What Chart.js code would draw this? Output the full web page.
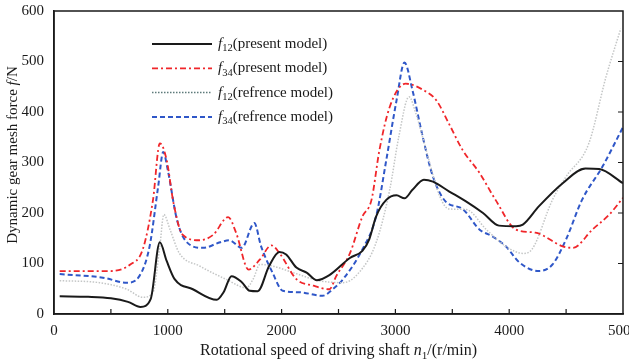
<!DOCTYPE html>
<html>
<head>
<meta charset="utf-8">
<script src="https://cdn.jsdelivr.net/npm/chart.js@4.4.0/dist/chart.umd.min.js"></script>
<style>
  body { margin: 0; background: #fff; }
  canvas { display: block; }
</style>
</head>
<body>
<canvas id="chart" width="629" height="361"></canvas>
<script>
// f12 (present model)
var f12PresentSpeed = [50, 300, 500, 650, 760, 850, 930, 990, 1060, 1220, 1430, 1490, 1560, 1650, 1720, 1790, 1890, 1980, 2040, 2130, 2220, 2310, 2420, 2600, 2710, 2770, 2830, 2920, 3010, 3080, 3150, 3250, 3330, 3470, 3620, 3770, 3910, 4060, 4120, 4260, 4470, 4670, 4790, 5000];
var f12PresentForce = [35, 34, 31, 24, 14, 30, 142, 105, 69, 49, 28, 43, 75, 63, 46, 45, 95, 123, 118, 92, 82, 67, 77, 111, 125, 148, 193, 226, 235, 229, 246, 266, 262, 243, 223, 200, 175, 174, 177, 213, 259, 288, 287, 259];

// f34 (present model)
var f34PresentSpeed = [50, 490, 670, 780, 870, 930, 990, 1050, 1130, 1280, 1400, 1530, 1600, 1710, 1810, 1910, 1980, 2130, 2280, 2420, 2480, 2600, 2710, 2790, 2860, 2950, 3090, 3250, 3360, 3470, 3590, 3740, 3880, 4060, 4230, 4470, 4560, 4730, 4880, 5000];
var f34PresentForce = [85, 85, 98, 128, 226, 338, 305, 220, 157, 146, 157, 192, 161, 88, 108, 136, 121, 69, 56, 49, 75, 120, 193, 226, 325, 410, 456, 443, 423, 377, 325, 279, 226, 167, 161, 134, 131, 167, 197, 230];

// f12 (refrence model)
var f12RefSpeed = [50, 400, 640, 780, 870, 930, 965, 1020, 1100, 1280, 1510, 1690, 1750, 1810, 1920, 2100, 2330, 2540, 2680, 2830, 2950, 3030, 3120, 3180, 3270, 3390, 3470, 3620, 3800, 3970, 4120, 4200, 4380, 4500, 4700, 4850, 4980];
var f12RefForce = [66, 62, 49, 33, 43, 134, 197, 167, 121, 95, 69, 52, 69, 98, 95, 82, 66, 62, 82, 141, 246, 351, 430, 397, 325, 233, 208, 207, 167, 134, 120, 128, 226, 272, 338, 469, 565];

// f34 (refrence model)
var f34RefSpeed = [50, 430, 640, 750, 840, 915, 960, 1000, 1080, 1160, 1310, 1460, 1540, 1650, 1760, 1820, 1920, 2010, 2160, 2360, 2450, 2540, 2710, 2830, 2920, 3010, 3080, 3150, 3240, 3330, 3440, 3590, 3740, 3850, 3970, 4090, 4260, 4380, 4500, 4640, 4820, 5000];
var f34RefForce = [79, 72, 62, 75, 134, 252, 321, 285, 187, 144, 131, 142, 146, 131, 180, 134, 82, 46, 43, 36, 49, 69, 128, 193, 305, 423, 498, 443, 351, 272, 223, 208, 167, 154, 134, 102, 85, 98, 148, 226, 292, 370];

var xTicks = [0, 1000, 2000, 3000, 4000, 5000];
var yTicks = [0, 100, 200, 300, 400, 500, 600];

var serif = '"Liberation Serif", "Times New Roman", serif';

function toPoints(xs, ys) {
    var pts = [];
    for (var i = 0; i < xs.length; i++) {
        pts.push({x: xs[i], y: ys[i]});
    }
    return pts;
}

// text made of pieces, some italic, some subscript
function richWidth(ctx, parts, size) {
    var w = 0;
    for (var i = 0; i < parts.length; i++) {
        var p = parts[i];
        var s = p.sub ? size * 0.7 : size;
        ctx.font = (p.italic ? 'italic ' : '') + s + 'px ' + serif;
        w += ctx.measureText(p.t).width;
    }
    return w;
}
function drawRich(ctx, parts, x, y, size) {
    ctx.textAlign = 'left';
    ctx.textBaseline = 'middle';
    for (var i = 0; i < parts.length; i++) {
        var p = parts[i];
        var s = p.sub ? size * 0.7 : size;
        ctx.font = (p.italic ? 'italic ' : '') + s + 'px ' + serif;
        ctx.fillText(p.t, x, p.sub ? y + size * 0.3 : y);
        x += ctx.measureText(p.t).width;
    }
}

var legendLabels = [
    [{t: 'f', italic: true}, {t: '12', sub: true}, {t: '(present model)'}],
    [{t: 'f', italic: true}, {t: '34', sub: true}, {t: '(present model)'}],
    [{t: 'f', italic: true}, {t: '12', sub: true}, {t: '(refrence model)'}],
    [{t: 'f', italic: true}, {t: '34', sub: true}, {t: '(refrence model)'}]
];

var decorPlugin = {
    id: 'decor',
    afterDraw: function(chart) {
        var ctx = chart.ctx;
        var a = chart.chartArea;
        var xs = chart.scales.x, ys = chart.scales.y;
        ctx.save();
        ctx.fillStyle = '#1a1a1a';
        ctx.strokeStyle = '#1a1a1a';
        ctx.setLineDash([]);

        // box round the plot
        ctx.lineWidth = 1.5;
        ctx.beginPath();
        ctx.moveTo(a.left, a.top);
        ctx.lineTo(a.right, a.top);
        ctx.lineTo(a.right, a.bottom);
        ctx.lineTo(a.left, a.bottom);
        ctx.closePath();
        ctx.stroke();

        // inward ticks
        ctx.lineWidth = 1.2;
        ctx.beginPath();
        for (var v = 500; v < 5000; v += 500) {
            var px = xs.getPixelForValue(v);
            ctx.moveTo(px, a.bottom);
            ctx.lineTo(px, a.bottom - 5);
        }
        for (var w = 100; w < 600; w += 100) {
            var py = ys.getPixelForValue(w);
            ctx.moveTo(a.right, py);
            ctx.lineTo(a.right - 5, py);
        }
        ctx.stroke();

        // axis titles
        var xt = [{t: 'Rotational speed of driving shaft '}, {t: 'n', italic: true}, {t: '1', sub: true}, {t: '/(r/min)'}];
        var wx = richWidth(ctx, xt, 16);
        drawRich(ctx, xt, (a.left + a.right) / 2 - wx / 2, 351, 16);

        var yt = [{t: 'Dynamic gear mesh force '}, {t: 'f', italic: true}, {t: '/N'}];
        var wy = richWidth(ctx, yt, 15);
        ctx.save();
        ctx.translate(13, 155);
        ctx.rotate(-Math.PI / 2);
        drawRich(ctx, yt, -wy / 2, 0, 15);
        ctx.restore();

        // legend
        for (var i = 0; i < chart.data.datasets.length; i++) {
            var ds = chart.data.datasets[i];
            var ly = 44 + i * 24.3;
            ctx.strokeStyle = ds.legendColor || ds.borderColor;
            ctx.lineWidth = ds.borderWidth;
            ctx.setLineDash(ds.borderDash || []);
            ctx.beginPath();
            ctx.moveTo(152, ly);
            ctx.lineTo(212, ly);
            ctx.stroke();
            ctx.setLineDash([]);
            ctx.fillStyle = '#1a1a1a';
            drawRich(ctx, legendLabels[i], 218, ly, 15);
        }
        ctx.restore();
    }
};

new Chart(document.getElementById('chart'), {
    type: 'line',
    data: {
        datasets: [
            {
                data: toPoints(f12PresentSpeed, f12PresentForce),
                borderColor: '#1a1a1a',
                borderWidth: 2,
                pointRadius: 0,
                cubicInterpolationMode: 'monotone'
            },
            {
                data: toPoints(f34PresentSpeed, f34PresentForce),
                borderColor: '#f0262a',
                borderWidth: 1.8,
                borderDash: [6, 3, 2, 3],
                pointRadius: 0,
                cubicInterpolationMode: 'monotone'
            },
            {
                data: toPoints(f12RefSpeed, f12RefForce),
                borderColor: '#c4c6c6',
                legendColor: '#5d7a7a',
                borderWidth: 1.5,
                borderDash: [1.5, 1.5],
                pointRadius: 0,
                cubicInterpolationMode: 'monotone'
            },
            {
                data: toPoints(f34RefSpeed, f34RefForce),
                borderColor: '#2f57c8',
                borderWidth: 2,
                borderDash: [5, 3],
                pointRadius: 0,
                cubicInterpolationMode: 'monotone'
            }
        ]
    },
    options: {
        responsive: false,
        animation: false,
        layout: { padding: { top: 10, right: 6, left: 0, bottom: 0 } },
        plugins: {
            legend: { display: false },
            tooltip: { enabled: false }
        },
        scales: {
            x: {
                type: 'linear',
                min: 0,
                max: 5000,
                afterFit: function(scale) {
                    scale.height = 47;
                    scale.paddingLeft = 0;
                    scale.paddingRight = 0;
                },
                afterBuildTicks: function(scale) {
                    scale.ticks = xTicks.map(function(v) { return {value: v}; });
                },
                grid: { display: false },
                border: { display: true, color: '#1a1a1a', width: 1.5 },
                ticks: {
                    padding: 0,
                    color: '#1a1a1a',
                    font: { family: serif, size: 15 },
                    maxRotation: 0,
                    callback: function(v) { return String(v); }
                }
            },
            y: {
                min: 0,
                max: 600,
                afterFit: function(scale) { scale.width = 54; },
                afterBuildTicks: function(scale) {
                    scale.ticks = yTicks.map(function(v) { return {value: v}; });
                },
                grid: { display: false },
                border: { display: true, color: '#1a1a1a', width: 1.5 },
                ticks: {
                    padding: 2,
                    color: '#1a1a1a',
                    font: { family: serif, size: 15 },
                    callback: function(v) { return String(v); }
                }
            }
        }
    },
    plugins: [decorPlugin]
});
</script>
</body>
</html>
